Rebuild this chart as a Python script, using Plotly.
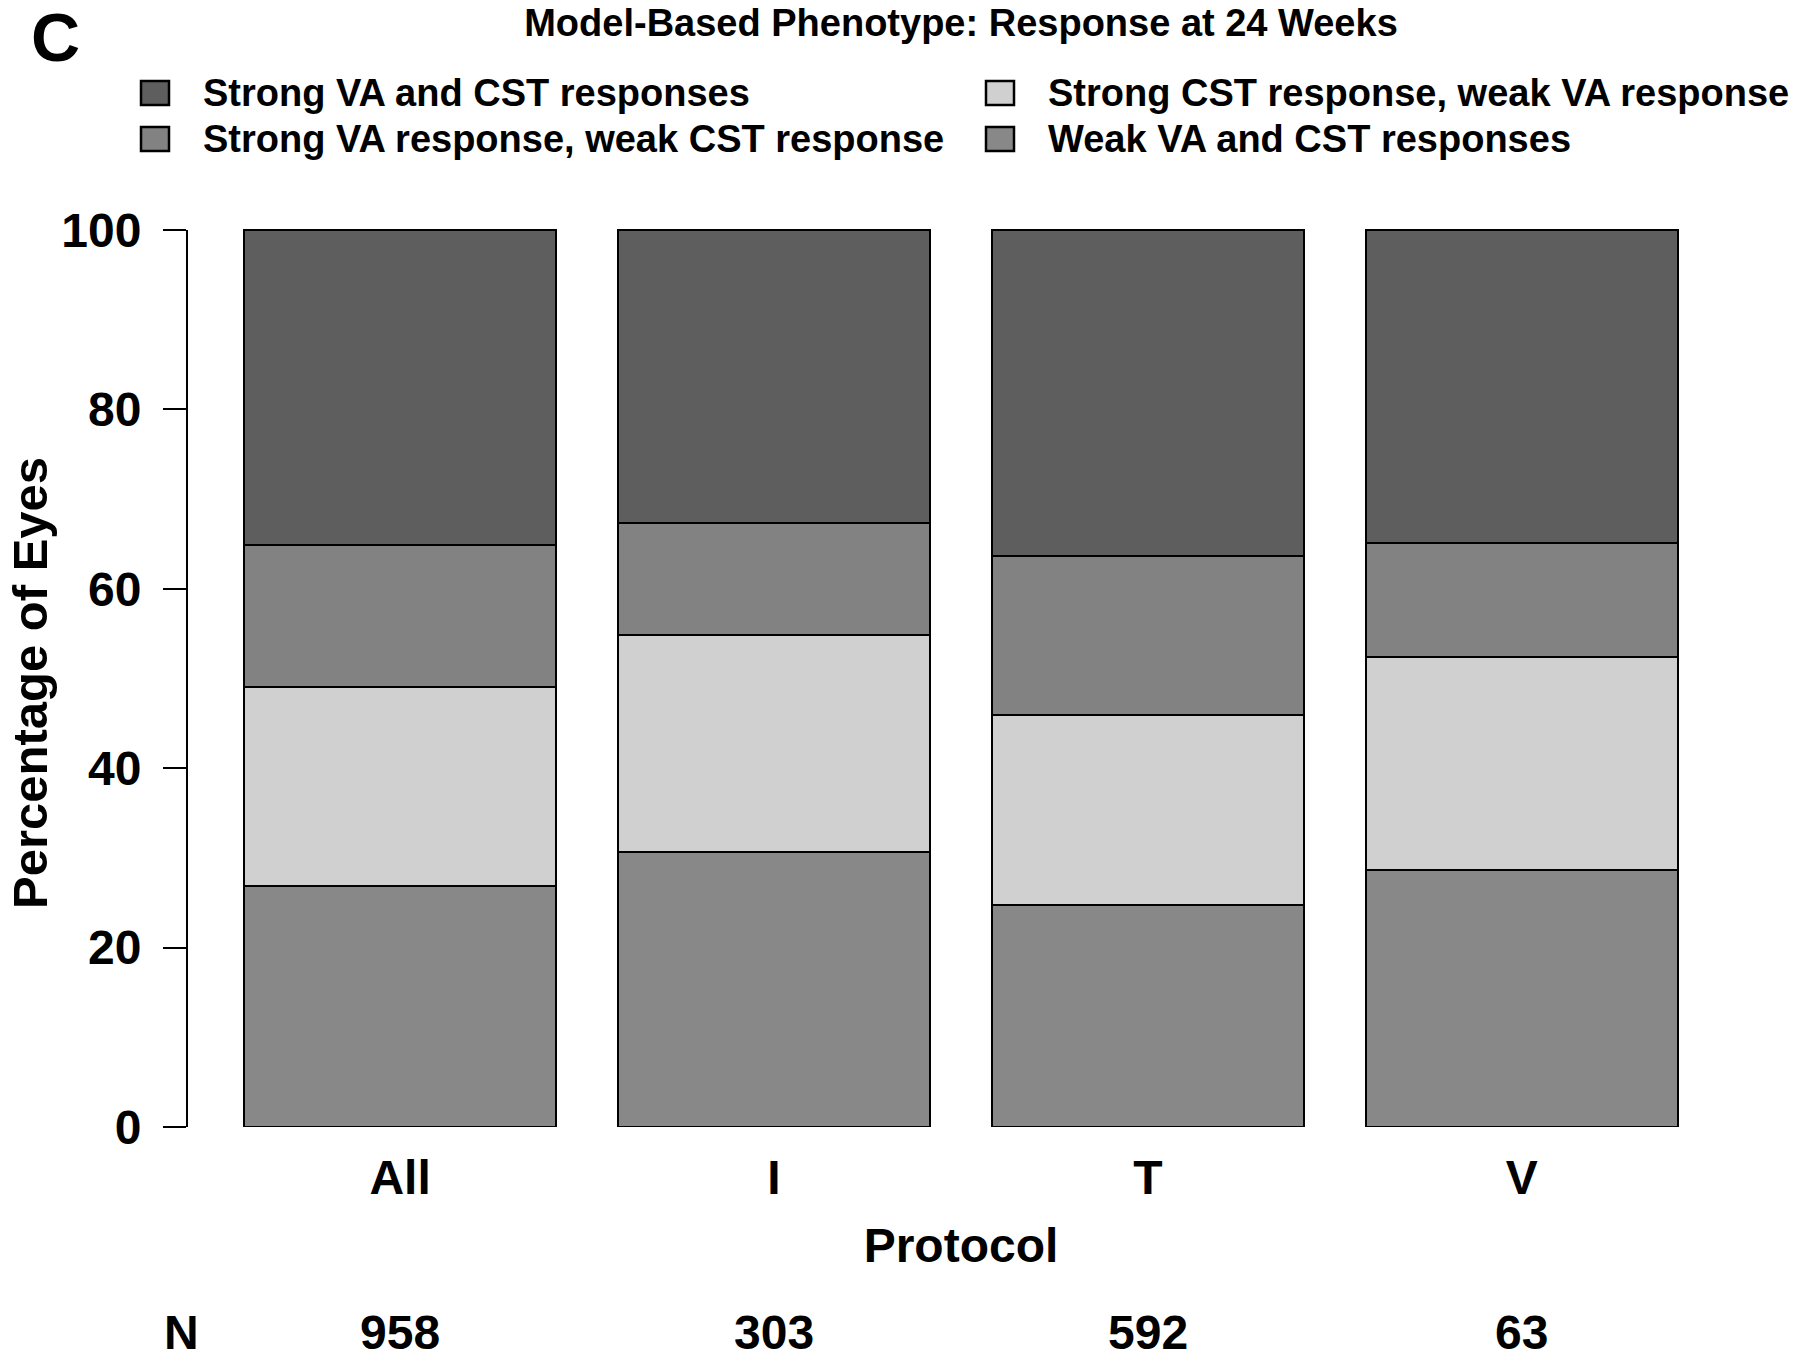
import plotly.graph_objects as go

# ---- data ----
protocols = ["All", "I", "T", "V"]
n_eyes = [958, 303, 592, 63]
weak_both = [26.9, 30.7, 24.8, 28.6]          # Weak VA and CST responses (bottom)
strong_cst_weak_va = [22.2, 24.1, 21.1, 23.8]  # Strong CST response, weak VA response
strong_va_weak_cst = [15.8, 12.5, 17.8, 12.7]  # Strong VA response, weak CST response
strong_both = [35.1, 32.7, 36.3, 34.9]         # Strong VA and CST responses (top)
y_ticks = [0, 20, 40, 60, 80, 100]

labels = {
    "both": "Strong VA and CST responses",
    "va": "Strong VA response, weak CST response",
    "cst": "Strong CST response, weak VA response",
    "weak": "Weak VA and CST responses",
}
colors = {"both": "#5e5e5e", "va": "#828282", "cst": "#d0d0d0", "weak": "#888888"}

FONT = "Liberation Sans, Arial, Helvetica, sans-serif"
W, H = 1800, 1361
L, R_, T, B = 187, 1735, 194, 1127  # plot area pixel edges


def px(x):
    return (x - L) / (R_ - L)


def py(y):
    return (B - y) / (B - T)


fig = go.Figure()
for key, vals in [("weak", weak_both), ("cst", strong_cst_weak_va),
                  ("va", strong_va_weak_cst), ("both", strong_both)]:
    fig.add_trace(go.Bar(
        x=protocols, y=vals, name=labels[key],
        marker=dict(color=colors[key], line=dict(color="black", width=2)),
        showlegend=False,
    ))

# y axis line from 0 to 100 only (base-R style)
fig.add_shape(type="line", xref="paper", yref="y", x0=0, x1=0, y0=0, y1=100,
              line=dict(color="black", width=2))

# manual legend (two columns)
legend_items = [("both", 155, 93), ("va", 155, 139), ("cst", 1000, 93), ("weak", 1000, 139)]
hw, hh = 14, 12
annotations = []
for key, cx, cy in legend_items:
    fig.add_shape(type="rect", xref="paper", yref="paper",
                  x0=px(cx - hw), x1=px(cx + hw), y0=py(cy + hh), y1=py(cy - hh),
                  fillcolor=colors[key], line=dict(color="black", width=2.5))
    annotations.append(dict(text=labels[key], xref="paper", yref="paper",
                            x=px(cx + 46), y=py(cy), xanchor="left", yanchor="middle",
                            showarrow=False,
                            font=dict(family=FONT, size=38, color="black", weight="bold")))

# panel letter
annotations.append(dict(text="C", xref="paper", yref="paper", x=px(55), y=py(37),
                        xanchor="center", yanchor="middle", showarrow=False,
                        font=dict(family=FONT, size=68, color="black", weight="bold")))

# y-axis title (placed explicitly)
annotations.append(dict(text="Percentage of Eyes", xref="paper", yref="paper",
                        x=px(30), y=py(683), textangle=-90,
                        xanchor="center", yanchor="middle", showarrow=False,
                        font=dict(family=FONT, size=49, color="black", weight="bold")))

# N row
annotations.append(dict(text="N", xref="paper", yref="paper", x=px(181), y=py(1332),
                        xanchor="center", yanchor="middle", showarrow=False,
                        font=dict(family=FONT, size=48, color="black", weight="bold")))
for p, n in zip(protocols, n_eyes):
    annotations.append(dict(text=str(n), xref="x", yref="paper", x=p, y=py(1332),
                            xanchor="center", yanchor="middle", showarrow=False,
                            font=dict(family=FONT, size=48, color="black", weight="bold")))

fig.update_layout(
    width=W, height=H,
    margin=dict(l=L, r=W - R_, t=T, b=H - B, autoexpand=False),
    paper_bgcolor="white", plot_bgcolor="white",
    barmode="stack", bargap=1 - 1 / 1.2,
    font=dict(family=FONT, color="black"),
    title=dict(text="Model-Based Phenotype: Response at 24 Weeks",
               x=0.5, xref="paper", xanchor="center",
               y=1 - 23 / H, yref="container", yanchor="middle",
               font=dict(family=FONT, size=38, color="black", weight="bold")),
    xaxis=dict(range=[-0.57, 3.57], showline=False, showgrid=False, zeroline=False,
               automargin=False,
               ticks="", tickfont=dict(family=FONT, size=48, color="black", weight="bold"),
               ticklabelstandoff=18,
               title=dict(text="Protocol", standoff=25,
                          font=dict(family=FONT, size=48, color="black", weight="bold"))),
    yaxis=dict(range=[0, 104], showline=False, showgrid=False, zeroline=False,
               automargin=False,
               tickmode="array", tickvals=y_ticks, ticktext=[str(v) for v in y_ticks],
               ticks="outside", ticklen=23, tickwidth=2, tickcolor="black",
               ticklabelstandoff=12,
               tickfont=dict(family=FONT, size=48, color="black", weight="bold")),
    annotations=annotations,
)

fig.write_html("out.html", config={"displayModeBar": False},
               post_script="document.body.style.margin='0';document.body.style.padding='0';")
